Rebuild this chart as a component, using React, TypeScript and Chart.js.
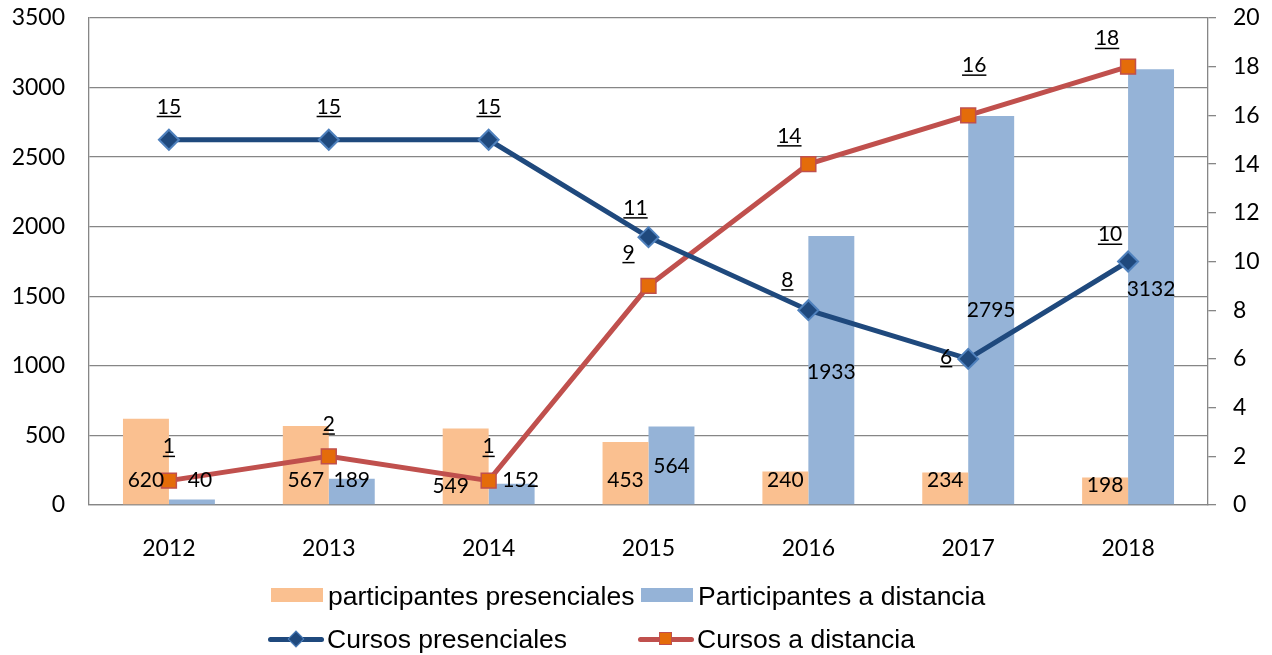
import React, { useEffect, useRef } from 'react';
import { Chart, registerables } from 'chart.js';

Chart.register(...registerables);

const years = ['2012', '2013', '2014', '2015', '2016', '2017', '2018'];
const participantesPresenciales = [620, 567, 549, 453, 240, 234, 198];
const participantesDistancia = [40, 189, 152, 564, 1933, 2795, 3132];
const cursosPresenciales = [15, 15, 15, 11, 8, 6, 10];
const cursosDistancia = [1, 2, 1, 9, 14, 16, 18];

const leftAxis = { min: 0, max: 3500, step: 500 };
const rightAxis = { min: 0, max: 20, step: 2 };

// label placement (pixel nudges for the value labels)
const presLineLabelShift = [[0, -33], [0, -33], [0, -33], [-13, -29], [-21, -30], [-22, -2], [-18, -27]];
const distLineLabelShift = [[0, -34], [0, -32], [0, -34], [-20, -33], [-19, -28], [6, -50], [-21, -28]];
const presBarLabelShift = [[0, 0], [0, 0], [-15, 6], [0, 0], [0, 0], [0, 0], [0, 5]];
const distBarLabelShift = [[8, 0], [0, 0], [9, 0], [0, 0], [0, 2], [0, 0], [0, 2]];

const C_ORANGE_BAR = '#FAC090';
const C_BLUE_BAR = '#95B3D7';
const C_BLUE_LINE = '#1F497D';
const C_BLUE_MARK_BORDER = '#4F81BD';
const C_RED_LINE = '#C0504D';
const C_ORANGE_MARK = '#E46C0A';
const GRID = '#868686';

const NUM_FONT = '21px Lato';
const TICK_FONT = { family: 'Lato', size: 23 };

const labelPlugin = {
  id: 'valueLabels',
  afterDatasetsDraw(chart: any) {
    const ctx = chart.ctx;
    const base = chart.scales.y.getPixelForValue(0);
    ctx.save();
    ctx.font = NUM_FONT;
    ctx.fillStyle = '#000';
    ctx.textAlign = 'center';
    ctx.textBaseline = 'middle';
    chart.data.datasets.forEach((ds: any, i: number) => {
      const meta = chart.getDatasetMeta(i);
      meta.data.forEach((el: any, j: number) => {
        const v = ds.data[j];
        const text = String(v);
        const shift = ds.labelShift[j];
        const x = el.x + shift[0];
        let y: number;
        if (ds.labelMode === 'base') {
          y = base - 25;
        } else if (ds.labelMode === 'center') {
          y = Math.min((el.y + base) / 2, base - 25);
        } else {
          y = el.y;
        }
        y += shift[1];
        ctx.fillText(text, x, y);
        if (ds.labelMode === 'line') {
          const w = ctx.measureText(text).width;
          ctx.fillRect(x - w / 2, y + 9, w, 1.5);
        }
      });
    });
    ctx.restore();
  },
};

const plainTick = (v: any) => String(v);

function ChartCanvas() {
  const ref = useRef<HTMLCanvasElement | null>(null);
  useEffect(() => {
    if (!ref.current) return;
    const chart = new Chart(ref.current, {
      type: 'bar',
      data: {
        labels: years,
        datasets: [
          {
            type: 'line',
            label: 'Cursos presenciales',
            data: cursosPresenciales,
            yAxisID: 'y1',
            borderColor: C_BLUE_LINE,
            backgroundColor: C_BLUE_LINE,
            borderWidth: 5,
            pointStyle: 'rectRot',
            pointRadius: 10,
            pointBorderWidth: 2,
            pointBackgroundColor: C_BLUE_LINE,
            pointBorderColor: C_BLUE_MARK_BORDER,
            tension: 0,
            order: 0,
            labelMode: 'line',
            labelShift: presLineLabelShift,
          } as any,
          {
            type: 'line',
            label: 'Cursos a distancia',
            data: cursosDistancia,
            yAxisID: 'y1',
            borderColor: C_RED_LINE,
            backgroundColor: C_RED_LINE,
            borderWidth: 5,
            pointStyle: 'rect',
            pointRadius: 10.5,
            pointBorderWidth: 1.5,
            pointBackgroundColor: C_ORANGE_MARK,
            pointBorderColor: C_RED_LINE,
            tension: 0,
            order: 0,
            labelMode: 'line',
            labelShift: distLineLabelShift,
          } as any,
          {
            type: 'bar',
            label: 'participantes presenciales',
            data: participantesPresenciales,
            yAxisID: 'y',
            backgroundColor: C_ORANGE_BAR,
            categoryPercentage: 0.575,
            barPercentage: 1,
            order: 1,
            labelMode: 'base',
            labelShift: presBarLabelShift,
          } as any,
          {
            type: 'bar',
            label: 'Participantes a distancia',
            data: participantesDistancia,
            yAxisID: 'y',
            backgroundColor: C_BLUE_BAR,
            categoryPercentage: 0.575,
            barPercentage: 1,
            order: 1,
            labelMode: 'center',
            labelShift: distBarLabelShift,
          } as any,
        ],
      },
      options: {
        animation: false,
        responsive: false,
        maintainAspectRatio: false,
        layout: { padding: { left: 0, right: 0, top: 18, bottom: 90 } },
        plugins: {
          legend: { display: false },
          tooltip: { enabled: false },
        },
        scales: {
          x: {
            offset: true,
            grid: { display: false },
            border: { display: true, color: GRID, width: 1.3 },
            ticks: { font: TICK_FONT, color: '#000', padding: 22, maxRotation: 0 },
            afterFit: (s: any) => { s.height = 60; s.paddingLeft = 0; s.paddingRight = 0; },
          },
          y: {
            position: 'left',
            min: leftAxis.min,
            max: leftAxis.max,
            ticks: { stepSize: leftAxis.step, font: TICK_FONT, color: '#000', padding: 24, callback: plainTick },
            grid: { color: GRID, lineWidth: 1.3, drawTicks: false },
            border: { display: true, color: GRID, width: 1.3 },
            afterFit: (s: any) => { s.width = 89; s.paddingTop = 0; s.paddingBottom = 0; },
          },
          y1: {
            position: 'right',
            min: rightAxis.min,
            max: rightAxis.max,
            ticks: { stepSize: rightAxis.step, font: TICK_FONT, color: '#000', padding: 17, callback: plainTick },
            grid: { drawOnChartArea: false, drawTicks: true, tickLength: 8, color: GRID, lineWidth: 1.3 },
            border: { display: true, color: GRID, width: 1.3 },
            afterFit: (s: any) => { s.width = 64; s.paddingTop = 0; s.paddingBottom = 0; },
          },
        },
      } as any,
      plugins: [labelPlugin],
    });
    return () => chart.destroy();
  }, []);
  return <canvas ref={ref} width={1272} height={655} style={{ display: 'block', width: 1272, height: 655 }} />;
}

const legendText: React.CSSProperties = {
  position: 'absolute',
  fontFamily: '"Liberation Sans", Arial, sans-serif',
  fontSize: 26.5,
  lineHeight: '30px',
  color: '#000',
  whiteSpace: 'nowrap',
};

function BoxItem({ left, top, color, label }: { left: number; top: number; color: string; label: string }) {
  return (
    <>
      <div style={{ position: 'absolute', left, top: top - 7, width: 52, height: 14, background: color }} />
      <div style={{ ...legendText, left: left + 57, top: top - 14 }}>{label}</div>
    </>
  );
}

function LineItem({ left, top, color, marker, label }: { left: number; top: number; color: string; marker: 'diamond' | 'square'; label: string }) {
  return (
    <>
      <div style={{ position: 'absolute', left, top: top - 2.5, width: 56, height: 5, background: color, borderRadius: 2.5 }} />
      {marker === 'diamond' ? (
        <div style={{ position: 'absolute', left: left + 28 - 6.5, top: top - 6.5, width: 10, height: 10, background: C_BLUE_LINE, border: `1.5px solid ${C_BLUE_MARK_BORDER}`, transform: 'rotate(45deg)' }} />
      ) : (
        <div style={{ position: 'absolute', left: left + 28 - 7, top: top - 7, width: 11, height: 11, background: C_ORANGE_MARK, border: `1.5px solid ${C_RED_LINE}` }} />
      )}
      <div style={{ ...legendText, left: left + 59, top: top - 15 }}>{label}</div>
    </>
  );
}

export default function App() {
  return (
    <div style={{ position: 'absolute', left: 0, top: 0, width: 1272, height: 655, background: '#fff', overflow: 'hidden' }}>
      <ChartCanvas />
      <BoxItem left={271} top={595} color={C_ORANGE_BAR} label="participantes presenciales" />
      <BoxItem left={641} top={595} color={C_BLUE_BAR} label="Participantes a distancia" />
      <LineItem left={268} top={639} color={C_BLUE_LINE} marker="diamond" label="Cursos presenciales" />
      <LineItem left={638} top={639} color={C_RED_LINE} marker="square" label="Cursos a distancia" />
    </div>
  );
}
